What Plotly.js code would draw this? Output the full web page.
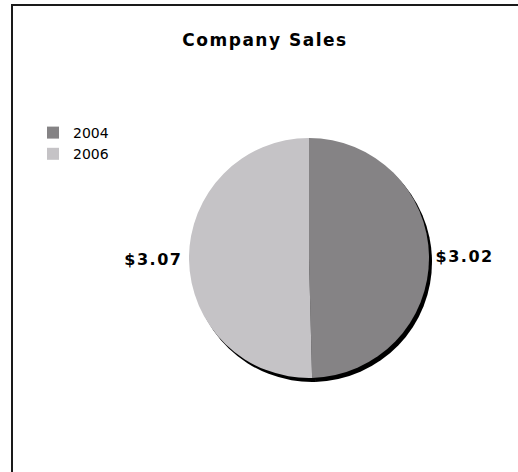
<!DOCTYPE html>
<html>
<head>
<meta charset="utf-8">
<script src="https://cdn.plot.ly/plotly-3.0.1.min.js"></script>
<style>
html,body{margin:0;padding:0;background:#fff;overflow:hidden;}
#chart{width:518px;height:472px;}
#chart .slicetext{letter-spacing:1.5px;}
#chart .gtitle{letter-spacing:1.5px;}
</style>
</head>
<body>
<div id="chart"></div>
<script>
const years = ['2004', '2006'];
const sales = [3.02, 3.07];
const sliceColors = ['#858385', '#c5c3c6'];

const W = 518, H = 472;
const cx = 309, cy = 258, r = 120, sh = 3;
const px = v => v / W;
const py = v => 1 - v / H;

const shadow = {
  type: 'pie',
  values: sales,
  labels: years,
  sort: false,
  direction: 'clockwise',
  rotation: 0,
  marker: {colors: ['#000000', '#000000'], line: {width: 0}},
  textinfo: 'none',
  hoverinfo: 'skip',
  showlegend: false,
  domain: {x: [px(cx - r + sh), px(cx + r + sh)], y: [py(cy + r + sh + 1), py(cy - r + sh + 1)]}
};

const main = {
  type: 'pie',
  values: sales,
  labels: years,
  sort: false,
  direction: 'clockwise',
  rotation: 0,
  marker: {colors: sliceColors, line: {width: 0}},
  texttemplate: '<b>\u00a0$%{value:.2f}\u00a0</b>',
  textposition: 'outside',
  outsidetextfont: {family: 'DejaVu Sans', size: 16, color: '#000'},
  hoverinfo: 'label+value',
  domain: {x: [px(cx - r), px(cx + r)], y: [py(cy + r), py(cy - r)]}
};

const layout = {
  width: W, height: H,
  margin: {l: 0, r: 0, t: 0, b: 0},
  paper_bgcolor: '#ffffff',
  title: {
    text: '<b>Company Sales</b>',
    font: {family: 'DejaVu Sans', size: 17, color: '#000'},
    x: px(265), xanchor: 'center', xref: 'paper',
    y: py(40), yanchor: 'middle', yref: 'paper'
  },
  showlegend: true,
  legend: {
    x: px(33), y: py(117), xanchor: 'left', yanchor: 'top',
    font: {family: 'DejaVu Sans', size: 14, color: '#000'},
    bgcolor: 'rgba(0,0,0,0)', itemclick: false
  },
  shapes: [
    {type: 'line', xref: 'paper', yref: 'paper', x0: px(11), x1: 1.02, y0: py(5), y1: py(5), line: {color: '#1a1a1a', width: 2}},
    {type: 'line', xref: 'paper', yref: 'paper', x0: px(12), x1: px(12), y0: -0.02, y1: py(5), line: {color: '#1a1a1a', width: 2}}
  ]
};

Plotly.newPlot('chart', [shadow, main], layout, {displayModeBar: false, staticPlot: true});
</script>
</body>
</html>
